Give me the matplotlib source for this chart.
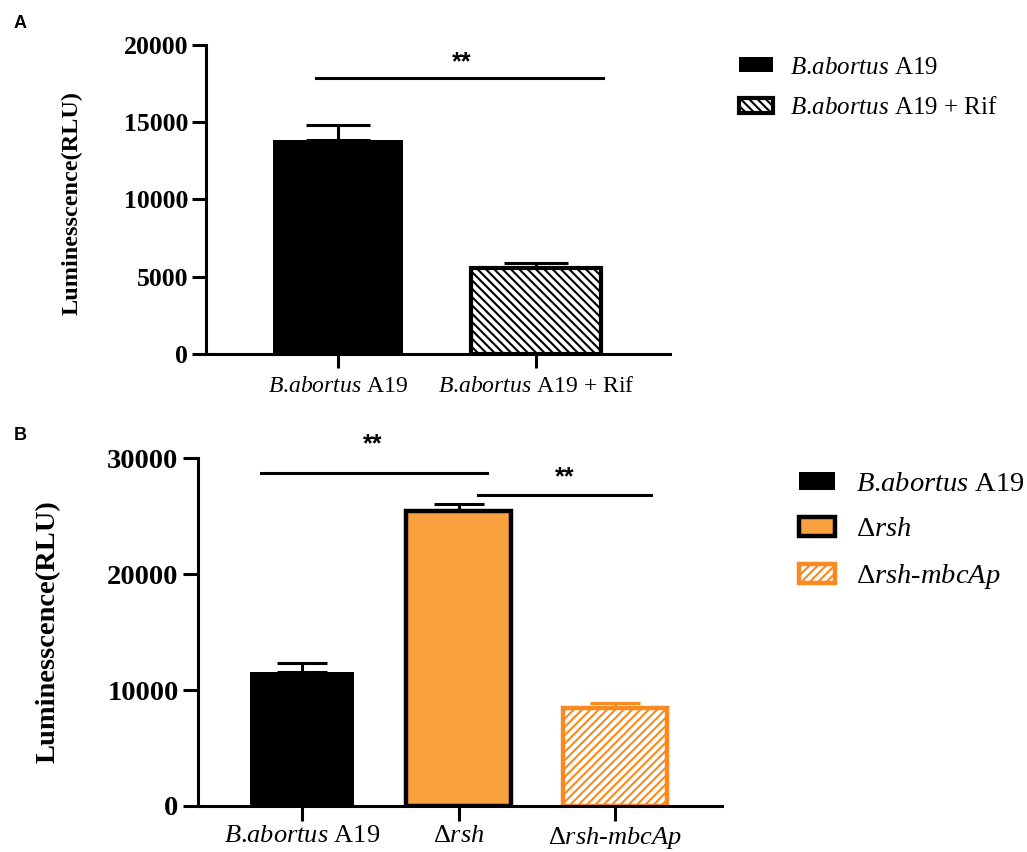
import matplotlib
matplotlib.use('Agg')
import matplotlib.pyplot as plt

plt.rcParams['font.family'] = ['Liberation Serif', 'DejaVu Serif']
plt.rcParams['mathtext.fontset'] = 'custom'
plt.rcParams['mathtext.it'] = 'Liberation Serif:italic'
plt.rcParams['mathtext.rm'] = 'Liberation Serif'
plt.rcParams['hatch.linewidth'] = 1.5

# ---------------- data ----------------
a_labels = [r'$\mathit{B}$.$\mathit{abortus}$ A19', r'$\mathit{B}$.$\mathit{abortus}$ A19 + Rif']
a_values = [13850, 5560]
a_err = [1000, 320]
a_yticks = [0, 5000, 10000, 15000, 20000]

b_labels = [r'$\mathit{B}$.$\mathit{abortus}$ A19', r'Δ$\mathit{rsh}$', r'Δ$\mathit{rsh}$-$\mathit{mbcAp}$']
b_values = [11550, 25450, 8450]
b_err = [800, 580, 430]
b_yticks = [0, 10000, 20000, 30000]

ylabel = 'Luminesscence(RLU)'

ORANGE_FILL = '#F9A03F'
ORANGE_LINE = '#F98A1F'

fig = plt.figure(figsize=(10.27, 8.52), dpi=100)

# ---------------- panel A ----------------
axA = fig.add_axes([0.2006, 0.5845, 0.4518, 0.3627])
xa = list(range(len(a_values)))
a_styles = [dict(color='black', edgecolor='black', linewidth=0, hatch=None),
            dict(color='white', edgecolor='black', linewidth=3, hatch='\\\\\\\\')]
a_handles = []
for i in xa:
    axA.errorbar([i], [a_values[i]], yerr=[[0], [a_err[i]]], fmt='none',
                 ecolor='black', elinewidth=2.2, capsize=23, capthick=2.2, zorder=1)
    b = axA.bar([i], [a_values[i]], width=0.66, zorder=2, label=a_labels[i], **a_styles[i])
    a_handles.append(b)
axA.set_xlim(-0.667, 1.677)
axA.set_ylim(0, 20000)
axA.set_yticks(a_yticks)
axA.set_yticklabels([str(v) for v in a_yticks], fontsize=18.5, fontweight='bold')
axA.set_xticks(xa)
axA.set_xticklabels(a_labels, fontsize=17)
axA.tick_params(axis='y', length=10, width=2.2, pad=3)
axA.tick_params(axis='x', length=10, width=2.2, pad=6)
for s in ['top', 'right']:
    axA.spines[s].set_visible(False)
for s in ['left', 'bottom']:
    axA.spines[s].set_linewidth(2.2)
axA.set_ylabel(ylabel, fontsize=17.5, fontweight='bold')
axA.yaxis.set_label_coords(-0.265, 0.49)
# significance
axA.plot([-0.11, 1.338], [17850, 17850], color='black', lw=2.2, clip_on=False)
axA.text(0.626, 18900, '**', ha='center', va='center', fontsize=18,
         family='Liberation Sans', fontweight='bold')

fig.text(20 / 1027, 1 - 24 / 852, 'A', family='Liberation Sans', fontweight='bold',
         fontsize=13, ha='center', va='center')

fig.legend(handles=a_handles, labels=a_labels, loc='center left',
           bbox_to_anchor=(739 / 1027, 1 - 88 / 852), frameon=False, fontsize=18,
           borderpad=0, borderaxespad=0, handlelength=1.36, handleheight=0.56,
           handletextpad=0.68, labelspacing=0.75)

# ---------------- panel B ----------------
axB = fig.add_axes([0.1928, 0.0540, 0.5102, 0.4084])
xb = list(range(len(b_values)))
b_styles = [dict(color='black', edgecolor='black', linewidth=0, hatch=None),
            dict(color=ORANGE_FILL, edgecolor='black', linewidth=3.2, hatch=None),
            dict(color='white', edgecolor=ORANGE_LINE, linewidth=3.2, hatch='////')]
b_ecolors = ['black', 'black', ORANGE_LINE]
b_handles = []
for i in xb:
    axB.errorbar([i], [b_values[i]], yerr=[[0], [b_err[i]]], fmt='none',
                 ecolor=b_ecolors[i], elinewidth=2.2, capsize=18, capthick=2.2, zorder=1)
    b = axB.bar([i], [b_values[i]], width=0.665, zorder=2, label=b_labels[i], **b_styles[i])
    b_handles.append(b)
axB.set_xlim(-0.665, 2.684)
axB.set_ylim(0, 30000)
axB.set_yticks(b_yticks)
axB.set_yticklabels([str(v) for v in b_yticks], fontsize=20.5, fontweight='bold')
axB.set_xticks(xb)
axB.set_xticklabels(b_labels, fontsize=19)
axB.tick_params(axis='y', length=11, width=2.2, pad=3)
axB.tick_params(axis='x', length=11, width=2.2, pad=3)
for s in ['top', 'right']:
    axB.spines[s].set_visible(False)
for s in ['left', 'bottom']:
    axB.spines[s].set_linewidth(2.2)
axB.set_ylabel(ylabel, fontsize=20.5, fontweight='bold')
axB.yaxis.set_label_coords(-0.263, 0.5)
# significance
axB.plot([-0.26, 1.18], [28700, 28700], color='black', lw=2.2, clip_on=False)
axB.text(0.45, 31200, '**', ha='center', va='center', fontsize=18,
         family='Liberation Sans', fontweight='bold')
axB.plot([1.125, 2.23], [26810, 26810], color='black', lw=2.2, clip_on=False)
axB.text(1.68, 28300, '**', ha='center', va='center', fontsize=18,
         family='Liberation Sans', fontweight='bold')

fig.text(20 / 1027, 1 - 436 / 852, 'B', family='Liberation Sans', fontweight='bold',
         fontsize=13, ha='center', va='center')

fig.legend(handles=b_handles, labels=b_labels, loc='center left',
           bbox_to_anchor=(799 / 1027, 1 - 531.5 / 852), frameon=False, fontsize=20.5,
           borderpad=0, borderaxespad=0, handlelength=1.26, handleheight=0.63,
           handletextpad=0.74, labelspacing=0.7)

fig.savefig('out.png', dpi=100)
